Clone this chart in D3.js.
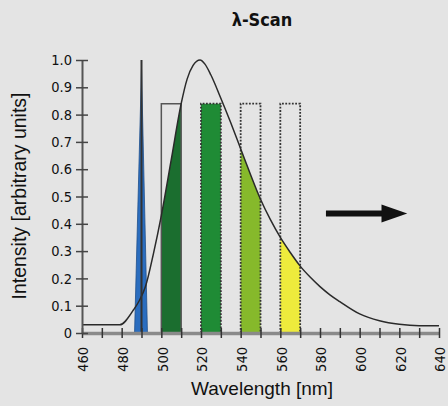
<!DOCTYPE html>
<html>
<head>
<meta charset="utf-8">
<script src="https://cdn.jsdelivr.net/npm/d3@7"></script>
<style>
body { margin: 0; background: #e4e4e4; }
svg { display: block; }
.tick text { font-family: "Liberation Sans Narrow", "DejaVu Sans Condensed", sans-serif; font-size: 14.5px; fill: #111; }
</style>
</head>
<body>
<script>
// emission curve
var curveNm = [460, 470, 479, 486, 489, 492, 496, 500, 505, 510, 513, 516, 519.5, 522, 525, 530, 535, 540, 545, 550, 555, 560, 565, 570, 575, 580, 585, 590, 600, 610, 620, 630, 640];
var curveI  = [0.03, 0.03, 0.03, 0.085, 0.12, 0.17, 0.29, 0.43, 0.635, 0.84, 0.93, 0.98, 1.0, 0.985, 0.945, 0.86, 0.77, 0.675, 0.58, 0.49, 0.415, 0.35, 0.295, 0.245, 0.205, 0.17, 0.14, 0.115, 0.07, 0.045, 0.032, 0.027, 0.027];

// detection bands
var bandStart = [500, 520, 540, 560];
var bandEnd   = [510, 530, 550, 570];
var bandColor = ["#1b6e2f", "#1f8b35", "#86b92b", "#eeeb3c"];
var bandLine  = ["solid", "dotted", "dotted", "dotted"];
var bandTop   = 0.84;

// excitation line
var laserNm = 490, laserLeft = 486.5, laserRight = 493, laserTop = 1.0;

// scan arrow
var arrowFrom = 583, arrowNeck = 611, arrowTo = 624, arrowY = 0.438;

var xTicks = d3.range(460, 641, 10);
var yTicks = d3.range(0, 1.01, 0.1);

var width = 448, height = 406;
var svg = d3.select("body").append("svg").attr("width", width).attr("height", height);

var x = d3.scaleLinear().domain([460, 640]).range([82, 439]);
var y = d3.scaleLinear().domain([0, 1]).range([333, 60]);

var pts = curveNm.map(function(d, i) { return [d, curveI[i]]; });

var area = d3.area().curve(d3.curveMonotoneX)
	.x(function(d) { return x(d[0]); })
	.y0(y(0))
	.y1(function(d) { return y(d[1]); });
var line = d3.line().curve(d3.curveMonotoneX)
	.x(function(d) { return x(d[0]); })
	.y(function(d) { return y(d[1]); });

var defs = svg.append("defs");

// band fills = area under curve, clipped to band box
bandStart.forEach(function(s, i) {
	defs.append("clipPath").attr("id", "clip" + i)
		.append("rect")
		.attr("x", x(s)).attr("y", y(bandTop))
		.attr("width", x(bandEnd[i]) - x(s))
		.attr("height", y(0) - y(bandTop));
	svg.append("path").datum(pts)
		.attr("d", area)
		.attr("fill", bandColor[i])
		.attr("clip-path", "url(#clip" + i + ")");
});

// band outlines
bandStart.forEach(function(s, i) {
	var e = bandEnd[i];
	var p = d3.path();
	p.moveTo(x(s), y(0)); p.lineTo(x(s), y(bandTop)); p.lineTo(x(e), y(bandTop)); p.lineTo(x(e), y(0));
	svg.append("path").attr("d", p.toString())
		.attr("fill", "none")
		.attr("stroke", bandLine[i] == "solid" ? "#555" : "#333")
		.attr("stroke-width", bandLine[i] == "solid" ? 1.5 : 1.8)
		.attr("stroke-dasharray", bandLine[i] == "solid" ? null : "1.8,1.5");
});

// laser spike
svg.append("path")
	.attr("d", d3.line()([[x(laserLeft), y(0)], [x(laserNm), y(laserTop * 0.97)], [x(laserRight), y(0)]]))
	.attr("fill", "#2a6dbf").attr("stroke", "#1f4f8a").attr("stroke-width", 0.8);

// curve
svg.append("path").datum(pts)
	.attr("d", line)
	.attr("fill", "none").attr("stroke", "#2a2a2a").attr("stroke-width", 1.5);

svg.append("line")
	.attr("x1", x(laserNm)).attr("x2", x(laserNm))
	.attr("y1", y(0)).attr("y2", y(laserTop))
	.attr("stroke", "#333").attr("stroke-width", 2);

// axes
var xAxis = svg.append("g").attr("transform", "translate(0," + y(0) + ")")
	.call(d3.axisBottom(x).tickValues(xTicks).tickSizeOuter(0)
		.tickFormat(function(d) { return d % 20 == 0 ? d : ""; }));
xAxis.select(".domain").attr("stroke", "#8a8a8a").attr("stroke-width", 3.5);
xAxis.selectAll(".tick line").attr("y1", -5).attr("y2", 5).attr("stroke", "#333").attr("stroke-width", 1.5);
xAxis.selectAll(".tick text")
	.attr("text-anchor", "end")
	.attr("transform", "translate(0,14) rotate(-90)")
	.attr("x", 0).attr("y", 0).attr("dy", "0.4em");

var yAxis = svg.append("g").attr("transform", "translate(" + x(460) + ",0)")
	.call(d3.axisLeft(y).tickValues(yTicks).tickSizeOuter(0)
		.tickFormat(function(d) { return d == 0 ? "0" : d3.format(".1f")(d); }));
yAxis.select(".domain").attr("stroke", "#555").attr("stroke-width", 2);
yAxis.selectAll(".tick line").attr("x1", -6).attr("x2", 6).attr("stroke", "#444").attr("stroke-width", 1.5);
yAxis.selectAll(".tick text").attr("x", -10);

// arrow
svg.append("line")
	.attr("x1", x(arrowFrom)).attr("x2", x(arrowNeck) + 2)
	.attr("y1", y(arrowY)).attr("y2", y(arrowY))
	.attr("stroke", "#111").attr("stroke-width", 6);
svg.append("path")
	.attr("d", d3.line()([[x(arrowNeck), y(arrowY) - 9], [x(arrowTo), y(arrowY)], [x(arrowNeck), y(arrowY) + 9]]))
	.attr("fill", "#111");

// titles
svg.append("text").attr("x", 262).attr("y", 26)
	.attr("text-anchor", "middle")
	.style("font-family", "'Liberation Sans Narrow', 'DejaVu Sans Condensed', sans-serif")
	.style("font-weight", "bold").style("font-size", "18px").attr("fill", "#111")
	.text("λ-Scan");

svg.append("text").attr("x", 262).attr("y", 395)
	.attr("text-anchor", "middle")
	.style("font-family", "'Liberation Sans', sans-serif").style("font-size", "19px").attr("fill", "#111")
	.text("Wavelength [nm]");

svg.append("text")
	.attr("transform", "translate(26,196) rotate(-90)")
	.attr("text-anchor", "middle")
	.style("font-family", "'Liberation Sans', sans-serif").style("font-size", "19.5px").attr("fill", "#111")
	.text("Intensity [arbitrary units]");
</script>
</body>
</html>
